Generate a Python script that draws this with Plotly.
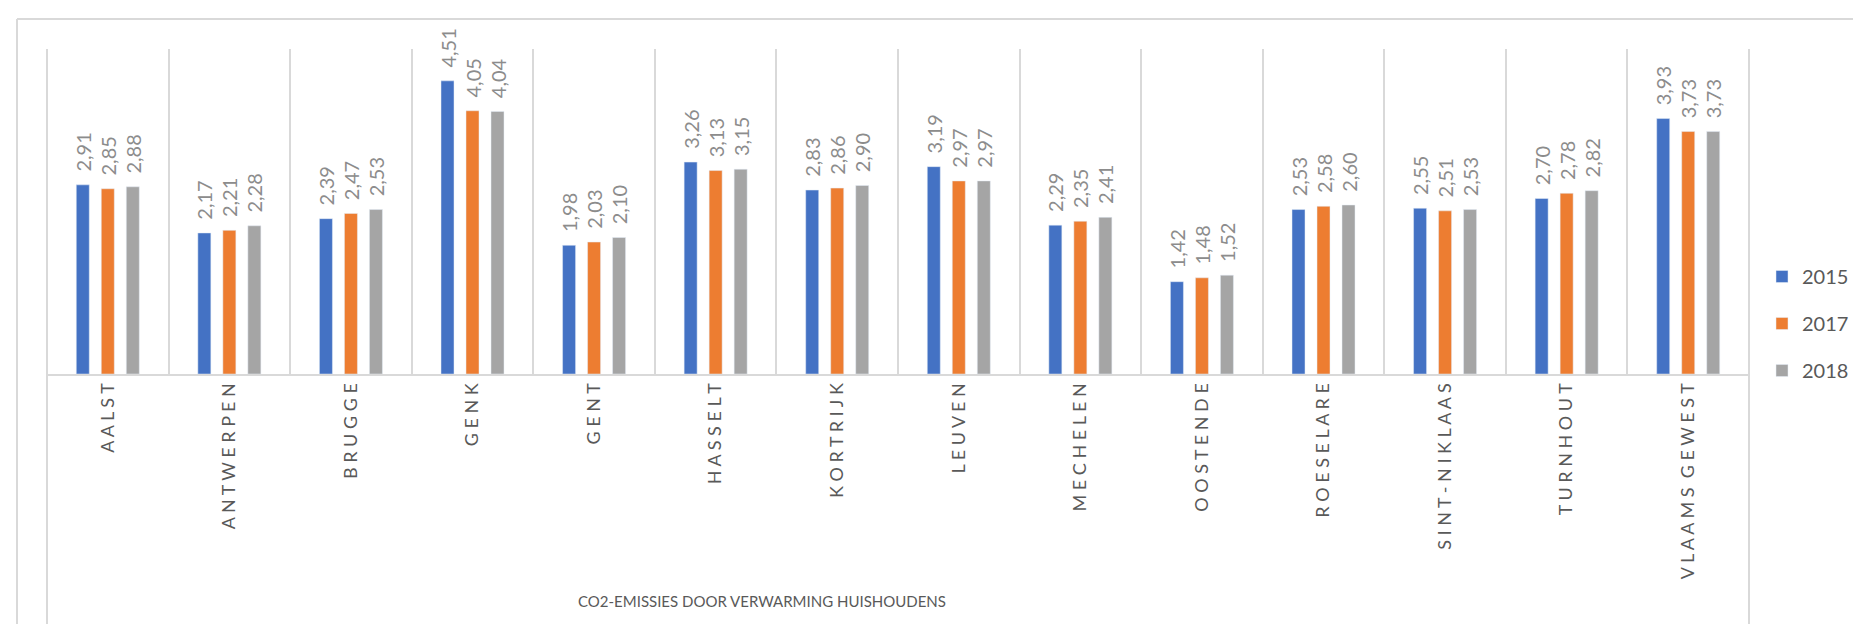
import plotly.graph_objects as go

# Data
gemeenten = ['AALST', 'ANTWERPEN', 'BRUGGE', 'GENK', 'GENT', 'HASSELT', 'KORTRIJK',
             'LEUVEN', 'MECHELEN', 'OOSTENDE', 'ROESELARE', 'SINT-NIKLAAS', 'TURNHOUT',
             'VLAAMS GEWEST']
jaren = ['2015', '2017', '2018']
co2_2015 = [2.91, 2.17, 2.39, 4.51, 1.98, 3.26, 2.83, 3.19, 2.29, 1.42, 2.53, 2.55, 2.70, 3.93]
co2_2017 = [2.85, 2.21, 2.47, 4.05, 2.03, 3.13, 2.86, 2.97, 2.35, 1.48, 2.58, 2.51, 2.78, 3.73]
co2_2018 = [2.88, 2.28, 2.53, 4.04, 2.10, 3.15, 2.90, 2.97, 2.41, 1.52, 2.60, 2.53, 2.82, 3.73]
kleuren = ['#4472C4', '#ED7D31', '#A5A5A5']
titel = 'CO2-EMISSIES DOOR VERWARMING HUISHOUDENS'

W, H = 1861, 624
L, R, T, B = 39, 1741, 41, 366  # plot area in pixels


def spatie(s):
    # excel-style letter spacing
    return '\u00a0'.join('\u00a0' if c == ' ' else c for c in s).replace('\u00a0\u00a0\u00a0', '\u00a0\u00a0')


fig = go.Figure()
for jaar, vals, kleur in zip(jaren, [co2_2015, co2_2017, co2_2018], kleuren):
    fig.add_trace(go.Bar(
        x=gemeenten, y=vals, name=jaar, marker_color=kleur, legendgroup=jaar,
        texttemplate='\u00a0\u00a0%{y:.2f}', textposition='outside', textangle=-90,
        constraintext='none', cliponaxis=False,
        textfont=dict(family='Lato', size=20, color='#8c8c8c'),
    ))

grijs = '#d9d9d9'
px = lambda x: (x - L) / (R - L)
py = lambda y: (B - y) / (B - T)

shapes = [
    # outer chart border
    dict(type='line', xref='paper', yref='paper', x0=px(9), x1=px(9), y0=py(11), y1=py(640),
         line=dict(color=grijs, width=2)),
    dict(type='line', xref='paper', yref='paper', x0=px(9), x1=px(1880), y0=py(11), y1=py(11),
         line=dict(color=grijs, width=2)),
    # left and right edges of the category axis
    dict(type='line', xref='paper', yref='paper', x0=0, x1=0, y0=1, y1=py(616),
         line=dict(color=grijs, width=2)),
    dict(type='line', xref='paper', yref='paper', x0=1, x1=1, y0=1, y1=py(616),
         line=dict(color=grijs, width=2)),
]

fig.update_layout(
    width=W, height=H,
    margin=dict(l=L, r=W - R, t=T, b=H - B),
    paper_bgcolor='white', plot_bgcolor='white',
    separators=',.',
    barmode='group', bargap=0.383, bargroupgap=0.48,
    font=dict(family='Lato', color='#595959'),
    xaxis=dict(
        tickmode='array', tickvals=gemeenten, ticktext=[spatie(g) for g in gemeenten],
        tickangle=-90, tickfont=dict(size=18, color='#595959'),
        tickson='boundaries', showgrid=True, gridcolor=grijs, gridwidth=2,
        showline=True, linecolor=grijs, linewidth=2, ticks='', ticklabelstandoff=0,
    ),
    yaxis=dict(range=[0, 5], showgrid=False, showticklabels=False, zeroline=False),
    legend=dict(
        xref='container', yref='container', x=1754 / W, y=1 - 249 / H,
        xanchor='left', yanchor='top', font=dict(size=20, color='#595959'),
        traceorder='grouped', tracegroupgap=18, bgcolor='rgba(0,0,0,0)',
    ),
    shapes=shapes,
    annotations=[dict(
        text=titel, xref='paper', yref='paper', x=px(754), y=py(604),
        showarrow=False, font=dict(size=15, color='#595959'),
    )],
    showlegend=True,
)

fig.write_html('out.html')
